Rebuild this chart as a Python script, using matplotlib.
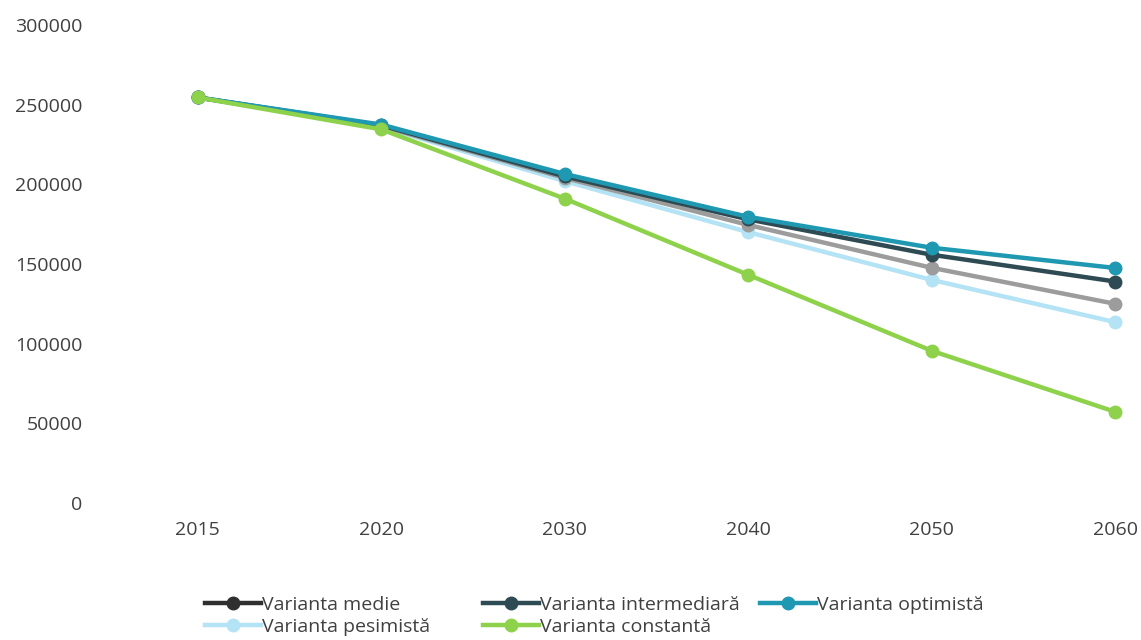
import matplotlib
matplotlib.use("Agg")
import matplotlib.pyplot as plt
from matplotlib.lines import Line2D

years = ["2015", "2020", "2030", "2040", "2050", "2060"]
medie = [254500, 236500, 204000, 174500, 147600, 125000]
intermediara = [254500, 237000, 205000, 178000, 155800, 139000]
optimista = [254500, 237500, 206500, 179600, 160200, 147500]
pesimista = [254500, 236000, 202000, 170000, 140000, 113500]
constanta = [254500, 234500, 191000, 143200, 95500, 57200]

series = [
    ("Varianta pesimistă", pesimista, "#b3e3f4"),
    ("Varianta medie", medie, "#9c9c9c"),
    ("Varianta intermediară", intermediara, "#2e4a52"),
    ("Varianta optimistă", optimista, "#1f98b2"),
    ("Varianta constantă", constanta, "#8ed24c"),
]
legend_colors = {
    "Varianta medie": "#2f2f2f",
    "Varianta intermediară": "#2e4a52",
    "Varianta optimistă": "#1f98b2",
    "Varianta pesimistă": "#b3e3f4",
    "Varianta constantă": "#8ed24c",
}

plt.rcParams['font.family'] = ['Open Sans', 'DejaVu Sans']
fig = plt.figure(figsize=(11.41, 6.4), dpi=100)
ax = fig.add_axes([106/1141, 137/640, 1 - 106/1141, (503-25)/640])

x = list(range(len(years)))
for name, vals, col in series:
    ax.plot(x, vals, color=col, lw=3.2, marker='o', ms=9, label=name,
            solid_capstyle='round', zorder=3)

ax.set_xlim(-0.5, 5.14)
ax.set_ylim(0, 300000)
ax.set_yticks(range(0, 300001, 50000))
ax.set_xticks(x)
ax.set_xticklabels(years)
for s in ax.spines.values():
    s.set_visible(False)
ax.tick_params(axis='both', length=0, labelsize=14, colors='#404040')
ax.tick_params(axis='y', pad=17)
ax.tick_params(axis='x', pad=13)

columns = [
    (["Varianta medie", "Varianta pesimistă"], 205),
    (["Varianta intermediară", "Varianta constantă"], 483),
    (["Varianta optimistă"], 760),
]
for names, px in columns:
    handles = [Line2D([0], [0], color=legend_colors[n], lw=3.2, marker='o', ms=9)
               for n in names]
    fig.legend(handles, names, loc='upper left',
               bbox_to_anchor=(px/1141, 1 - 596/640), frameon=False,
               fontsize=14, handlelength=2.9, handletextpad=0.05,
               labelspacing=0.2, borderpad=0, borderaxespad=0,
               labelcolor='#404040')

fig.savefig("out.png", dpi=100)
